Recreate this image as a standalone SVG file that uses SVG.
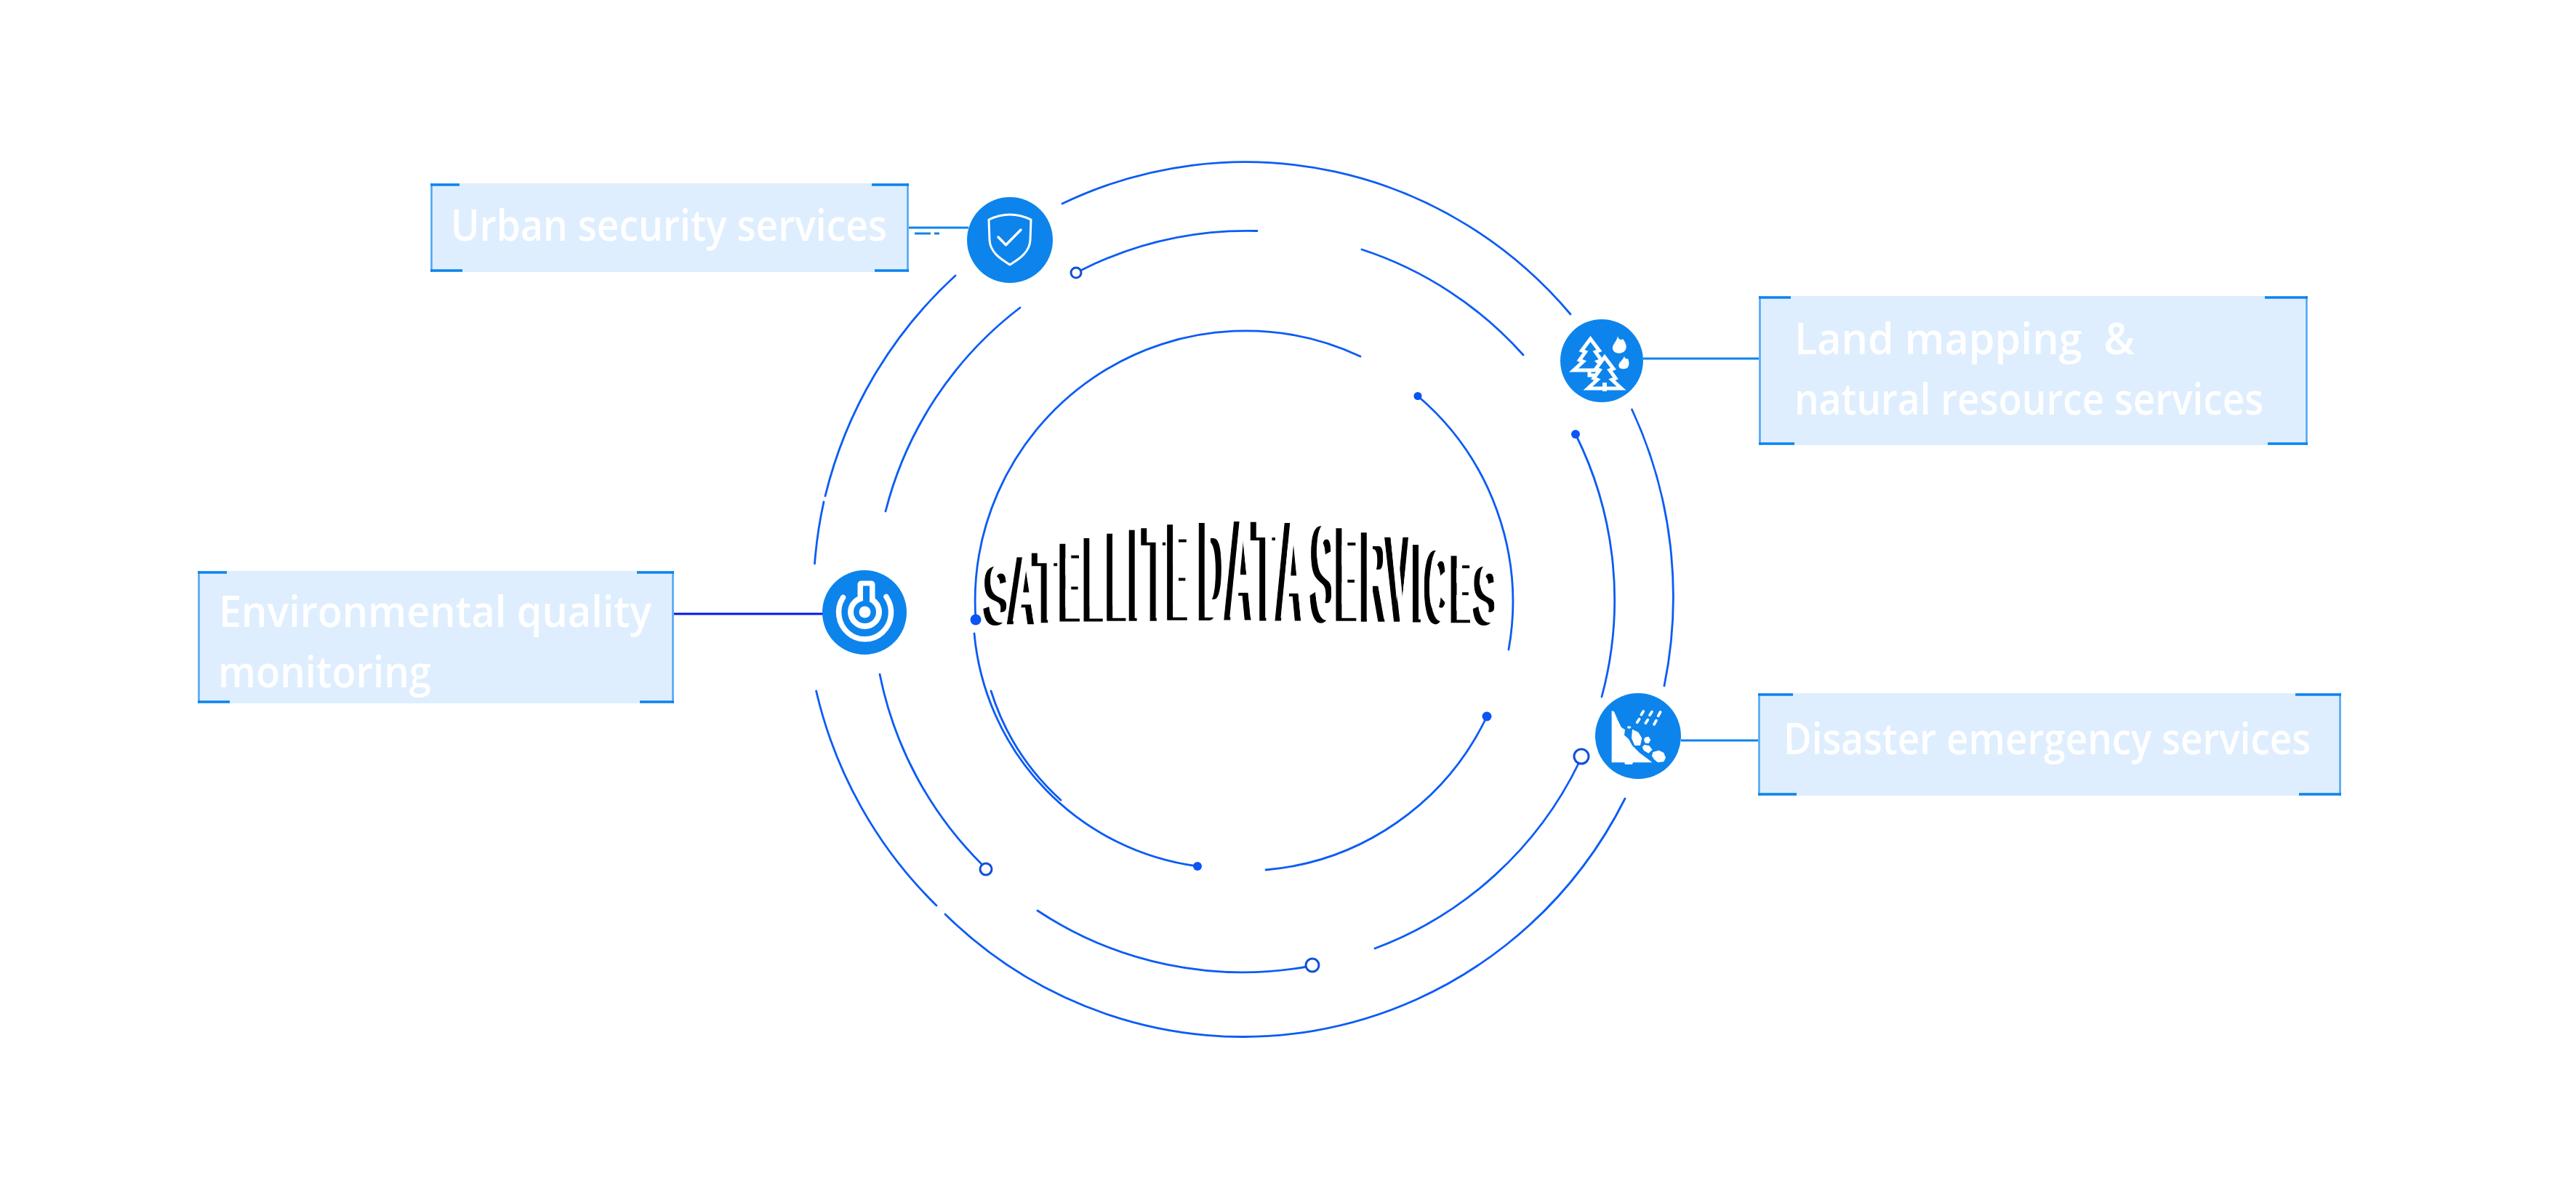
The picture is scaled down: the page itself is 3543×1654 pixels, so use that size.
<svg xmlns="http://www.w3.org/2000/svg" width="3543" height="1654" viewBox="0 0 3543 1654">
<style>
  .arc { fill: none; stroke: #0b5cf5; stroke-width: 2.8; stroke-linecap: round; }
  .dot { fill: #0b55f5; }
  .open { fill: #fff; stroke: #0f50d8; stroke-width: 3; }
  .box { fill: #deeefe; }
  .side { stroke: #4ea5f5; stroke-width: 2.5; fill: none; }
  .corner { stroke: #0d84ec; stroke-width: 3.5; fill: none; }
  .link { stroke: #0d84ec; stroke-width: 3; fill: none; }
  .disc { fill: #0d84ec; }
  .label { font-family: "Open Sans", "Noto Sans", sans-serif; font-size: 60px; font-weight: 600; fill: #fff; }
  .letter { font-family: "Liberation Sans", Arial, sans-serif; font-size: 100px; font-weight: 700; stroke-width: 2; }
  .wl { fill: none; stroke: #fff; stroke-linecap: round; stroke-linejoin: round; }
</style>

<g id="connectors">
  <!-- outer ring -->
  <path class="arc" d="M1461 280A590 601 0 0 1 2160 432"/>
  <path class="arc" d="M2244.5 563A590 601 0 0 1 2289 943"/>
  <path class="arc" d="M2235 1098A590 601 0 0 1 1300 1257"/>
  <path class="arc" d="M1288 1245A590 601 0 0 1 1122.6 950"/>
  <path class="arc" d="M1120.5 775A590 601 0 0 1 1133 690"/>
  <path class="arc" d="M1135 682A590 601 0 0 1 1314 379"/>
  <!-- middle ring -->
  <path class="arc" d="M1486 372A510 510 0 0 1 1729 317.5"/>
  <path class="arc" d="M1873 343A510 510 0 0 1 2095 488"/>
  <path class="arc" d="M2167 597A510 510 0 0 1 2203 958"/>
  <path class="arc" d="M2172 1048A510 510 0 0 1 1891 1304"/>
  <path class="arc" d="M1798 1329A510 510 0 0 1 1427 1252"/>
  <path class="arc" d="M1351 1189A510 510 0 0 1 1210 927"/>
  <path class="arc" d="M1218 703A510 510 0 0 1 1403 423"/>
  <!-- inner ring -->
  <path class="arc" d="M1871 490A372 372 0 0 0 1342 852"/>
  <path class="arc" d="M1340 871A355 355 0 0 0 1647 1191"/>
  <path class="arc" d="M1363 950A340 340 0 0 0 1459 1100"/>
  <path class="arc" d="M1741 1196A372 372 0 0 0 2045 985"/>
  <path class="arc" d="M2075 893A372 372 0 0 0 1950 544.5"/>
  <!-- ring end markers -->
  <circle class="open" cx="1480" cy="375" r="7"/>
  <circle class="dot" cx="2167" cy="597" r="6"/>
  <circle class="open" cx="2175" cy="1040" r="10"/>
  <circle class="open" cx="1805" cy="1327" r="9"/>
  <circle class="open" cx="1356" cy="1195" r="8"/>
  <circle class="dot" cx="1342" cy="852" r="7.5"/>
  <circle class="dot" cx="1647" cy="1191" r="6"/>
  <circle class="dot" cx="2045" cy="985" r="6.5"/>
  <circle class="dot" cx="1950" cy="544.5" r="5.5"/>
  <!-- box leaders -->
  <path class="link" d="M1250 313H1332"/>
  <path class="link" d="M1258 321H1280M1285 321H1292"/>
  <path class="link" d="M2260 493H2419"/>
  <path class="link" d="M2312 1018H2418"/>
  <path class="link" style="stroke:#0018e8" d="M927 844H1132"/>
</g>

<g id="node-urban">
  <rect class="box" x="592" y="252" width="658" height="122"/>
  <path class="side" d="M593.5 252V374M1248.5 252V374"/>
  <path class="corner" d="M592 254H632M1199 254H1250M592 372H636M1203 372H1250"/>
  <text class="label" x="620" y="331" textLength="600" lengthAdjust="spacingAndGlyphs">Urban security services</text>
  <circle class="disc" cx="1389" cy="330" r="59"/>
  <path class="wl" stroke-width="3" d="M1360 302Q1389 288 1418 302L1417 330C1416 348 1400 357 1389 364C1378 357 1362 348 1361 330Z"/>
  <path class="wl" stroke-width="3.5" d="M1373 326L1383.5 336.7L1404 316"/>
</g>

<g id="node-land">
  <rect class="box" x="2419" y="407" width="755" height="205"/>
  <path class="side" d="M2420.5 407V612M3172.5 407V612"/>
  <path class="corner" d="M2419 409H2463M3115 409H3174M2419 610H2468M3119 610H3174"/>
  <text class="label" x="2468" y="487" textLength="468" lengthAdjust="spacingAndGlyphs" xml:space="preserve">Land mapping  &amp;</text>
  <text class="label" x="2468" y="570" textLength="645" lengthAdjust="spacingAndGlyphs">natural resource services</text>
  <circle class="disc" cx="2203" cy="496" r="57"/>
  <g fill="#0d84ec" stroke="#fff" stroke-width="5" stroke-linejoin="miter">
    <path fill="none" d="M2186 500V516H2196"/>
    <path transform="translate(2187.5 466)" d="M0 0L12 16L7 18L15 29L10 31L23 43H-23L-10 31L-15 29L-7 18L-12 16Z"/>
    <path transform="translate(2207 491)" d="M0 0L12 16L7 18L15 29L10 31L23 43H-23L-10 31L-15 29L-7 18L-12 16Z"/>
  </g>
  <rect x="2204" y="526" width="6" height="12" fill="#fff"/>
  <path fill="#fff" d="M2225 462C2226 467 2230 468 2232 466C2237 472 2238 478 2235 482C2231 487 2222 487 2219 482C2215 475 2224 470 2225 462Z"/>
  <path fill="#fff" d="M2234 490C2235 493 2237 494 2239 493C2241 498 2241 502 2239 505C2236 508 2229 508 2227 505C2224 499 2232 496 2234 490Z"/>
</g>

<g id="node-disaster">
  <rect class="box" x="2418" y="953" width="802" height="141"/>
  <path class="side" d="M2419.5 953V1094M3218.5 953V1094"/>
  <path class="corner" d="M2418 955H2466M3157 955H3220M2418 1092H2471M3162 1092H3220"/>
  <text class="label" x="2453" y="1037" textLength="725" lengthAdjust="spacingAndGlyphs">Disaster emergency services</text>
  <circle class="disc" cx="2253" cy="1012" r="59"/>
  <g transform="translate(2180 940) scale(.3333)" fill="#fff">
    <path d="M110 112L120 115L135 150L150 180L165 190L162 212L180 228L195 255L225 285L278 325H198L195 333H165L163 325H110Z"/>
    <path d="M195 188L220 200L235 225L228 255L205 255L192 225Z"/>
    <path d="M247 222L262 218L271 232L263 246L250 246L243 234Z"/>
    <path d="M245 252L265 256L278 272L262 287L243 276L236 262Z"/>
    <path d="M280 282L305 275L325 285L333 305L325 322L300 325L285 312L276 298Z"/>
    <ellipse cx="182" cy="180" rx="8" ry="5"/>
    <path class="wl" stroke-width="11" d="M232 128L241 114M267 130L276 116M302 133L311 117M215 160L224 146M250 163L259 149M285 168L294 152"/>
  </g>
</g>

<g id="node-environment">
  <rect class="box" x="272" y="785" width="655" height="182"/>
  <path class="side" d="M273.5 785V967M925.5 785V967"/>
  <path class="corner" d="M272 787H312M876 787H927M272 965H316M880 965H927"/>
  <text class="label" x="301" y="862" textLength="595" lengthAdjust="spacingAndGlyphs">Environmental quality</text>
  <text class="label" x="300" y="945" textLength="293" lengthAdjust="spacingAndGlyphs">monitoring</text>
  <circle class="disc" cx="1189" cy="842" r="58"/>
  <path class="wl" stroke-width="7.5" d="M1159.5 821.5A36 37 0 1 0 1219 820.5"/>
  <circle cx="1189.5" cy="841.5" r="23.5" fill="#fff"/>
  <rect x="1179.5" y="798.5" width="24" height="30" rx="5" fill="#fff"/>
  <circle cx="1189.5" cy="841.5" r="15.5" fill="#0d84ec"/>
  <rect x="1187" y="805.5" width="9" height="24" fill="#0d84ec"/>
  <circle cx="1189.5" cy="841.5" r="8" fill="#fff"/>
</g>

<!-- Title: one group per glyph; the white copy leaves only the left and lower edges of each letter -->
<g id="title" class="letter" fill="#000" stroke="#000">
  <text id="g1" transform="matrix(.519 0 0 1.12 1351.5 857.5)">S</text><use href="#g1" x="8" y="-4" fill="#fff" stroke="#fff"/>
  <text id="g2" transform="matrix(.532 0 0 1.29 1384.2 856.7)">A</text><use href="#g2" x="8" y="-4" fill="#fff" stroke="#fff"/>
  <text id="g3" transform="matrix(.58 0 0 1.36 1418.7 855)">T</text><use href="#g3" x="8" y="-4" fill="#fff" stroke="#fff"/>
  <text id="g4" transform="matrix(.473 0 0 1.5 1454.7 853.3)">E</text><use href="#g4" x="8" y="-4" fill="#fff" stroke="#fff"/>
  <text id="g5" transform="matrix(.49 0 0 1.61 1487.7 852.7)">L</text><use href="#g5" x="8" y="-4" fill="#fff" stroke="#fff"/>
  <text id="g6" transform="matrix(.49 0 0 1.69 1519.4 852)">L</text><use href="#g6" x="8" y="-4" fill="#fff" stroke="#fff"/>
  <text id="g7" transform="matrix(.66 0 0 1.77 1549 851.7)">I</text><use href="#g7" x="8" y="-4" fill="#fff" stroke="#fff"/>
  <text id="g8" transform="matrix(.555 0 0 1.8 1569.3 851.7)">T</text><use href="#g8" x="8" y="-4" fill="#fff" stroke="#fff"/>
  <text id="g9" transform="matrix(.473 0 0 1.85 1602.6 850.7)">E</text><use href="#g9" x="8" y="-4" fill="#fff" stroke="#fff"/>
  <text id="g10" transform="matrix(.494 0 0 1.9 1646 850.7)">D</text><use href="#g10" x="8" y="-4" fill="#fff" stroke="#fff"/>
  <text id="g11" transform="matrix(.532 0 0 1.92 1682.7 850.7)">A</text><use href="#g11" x="8" y="-4" fill="#fff" stroke="#fff"/>
  <text id="g12" transform="matrix(.56 0 0 1.91 1719.7 850.7)">T</text><use href="#g12" x="8" y="-4" fill="#fff" stroke="#fff"/>
  <text id="g13" transform="matrix(.51 0 0 1.89 1753 850.7)">A</text><use href="#g13" x="8" y="-4" fill="#fff" stroke="#fff"/>
  <text id="g14" transform="matrix(.476 0 0 1.84 1800.7 852.5)">S</text><use href="#g14" x="8" y="-4" fill="#fff" stroke="#fff"/>
  <text id="g15" transform="matrix(.48 0 0 1.8 1834.8 851.7)">E</text><use href="#g15" x="8" y="-4" fill="#fff" stroke="#fff"/>
  <text id="g16" transform="matrix(.494 0 0 1.72 1868.9 852.7)">R</text><use href="#g16" x="8" y="-4" fill="#fff" stroke="#fff"/>
  <text id="g17" transform="matrix(.495 0 0 1.64 1904.6 853.3)">V</text><use href="#g17" x="8" y="-4" fill="#fff" stroke="#fff"/>
  <text id="g18" transform="matrix(.66 0 0 1.51 1939.3 854)">I</text><use href="#g18" x="8" y="-4" fill="#fff" stroke="#fff"/>
  <text id="g19" transform="matrix(.428 0 0 1.39 1957.6 855.5)">C</text><use href="#g19" x="8" y="-4" fill="#fff" stroke="#fff"/>
  <text id="g20" transform="matrix(.455 0 0 1.29 1993 855)">E</text><use href="#g20" x="8" y="-4" fill="#fff" stroke="#fff"/>
  <text id="g21" transform="matrix(.476 0 0 1.12 2025 857.5)">S</text><use href="#g21" x="8" y="-4" fill="#fff" stroke="#fff"/>
</g>
</svg>
